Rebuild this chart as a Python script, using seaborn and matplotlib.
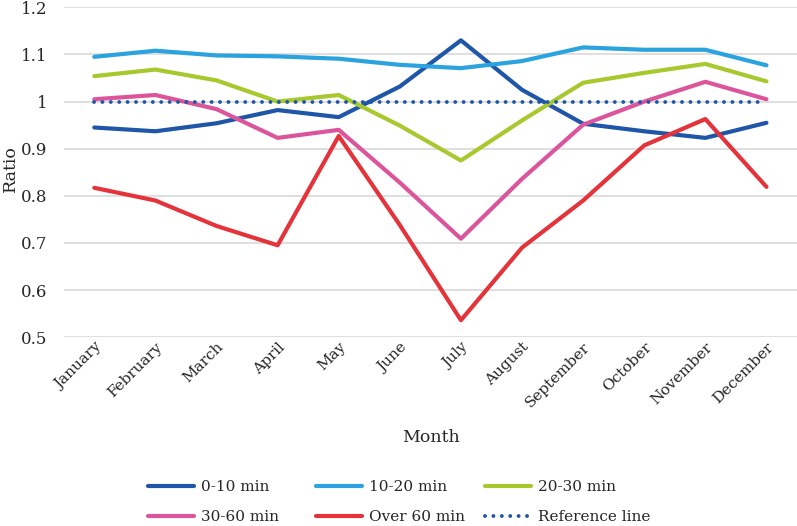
import matplotlib
matplotlib.use('Agg')
import matplotlib.pyplot as plt
import numpy as np
import pandas as pd
import seaborn as sns

# Monthly ratio by travel-time band
months = ['January', 'February', 'March', 'April', 'May', 'June', 'July',
          'August', 'September', 'October', 'November', 'December']
min_0_10 = [0.945, 0.937, 0.954, 0.982, 0.967, 1.032, 1.130, 1.025, 0.953, 0.937, 0.923, 0.955]
min_10_20 = [1.095, 1.108, 1.098, 1.096, 1.091, 1.078, 1.071, 1.086, 1.115, 1.110, 1.110, 1.077]
min_20_30 = [1.054, 1.068, 1.045, 1.000, 1.014, 0.949, 0.875, 0.960, 1.040, 1.061, 1.080, 1.043]
min_30_60 = [1.005, 1.014, 0.984, 0.923, 0.940, 0.828, 0.709, 0.836, 0.951, 1.000, 1.042, 1.005]
over_60 = [0.817, 0.790, 0.736, 0.695, 0.927, 0.738, 0.536, 0.690, 0.790, 0.907, 0.963, 0.819]
reference = [1.0] * 12

series = {
    '0-10 min': (min_0_10, '#1f56a8'),
    '10-20 min': (min_10_20, '#2aa3de'),
    '20-30 min': (min_20_30, '#a8c92e'),
    '30-60 min': (min_30_60, '#dc559c'),
    'Over 60 min': (over_60, '#e5333b'),
}

sns.set_style('white')
plt.rcParams['font.family'] = ['DejaVu Serif']

fig = plt.figure(figsize=(7.97, 5.26), dpi=100)
ax = fig.add_axes([0.080, 0.359, 0.920, 0.627])

for name, (vals, col) in series.items():
    df = pd.DataFrame({'Month': months, 'Ratio': vals})
    sns.lineplot(data=df, x='Month', y='Ratio', ax=ax, color=col, linewidth=3.0,
                 label=name, sort=False)

ref_df = pd.DataFrame({'Month': months, 'Ratio': reference})
sns.lineplot(data=ref_df, x='Month', y='Ratio', ax=ax, color='#1f56a8', linewidth=2.8,
             label='Reference line', sort=False)
ref_line = ax.get_lines()[-1]
ref_line.set_linestyle((0, (0.01, 2.15)))
ref_line.set_dash_capstyle('round')

ax.set_ylim(0.5, 1.2)
ax.set_yticks(np.arange(0.5, 1.21, 0.1))
ax.set_yticklabels(['0.5', '0.6', '0.7', '0.8', '0.9', '1', '1.1', '1.2'], fontsize=12)
ax.set_xlim(-0.5, 11.5)
ax.tick_params(axis='x', labelsize=11, rotation=45, length=0, pad=2)
ax.tick_params(axis='y', length=0, pad=12)
for lbl in ax.get_xticklabels():
    lbl.set_ha('right')
    lbl.set_rotation_mode('anchor')

ax.grid(axis='y', color='#d9d9d9', linewidth=1.2)
ax.set_axisbelow(True)
for spine in ax.spines.values():
    spine.set_visible(False)

ax.set_xlabel('')
ax.set_ylabel('')
fig.text(0.541, 0.169, 'Month', ha='center', va='center', fontsize=12.5)
fig.text(0.013, 0.68, 'Ratio', ha='center', va='center', rotation=90, fontsize=12.5)

# Legend: three equal-width columns, filled row by row
handles, labels = ax.get_legend_handles_labels()
ax.get_legend().remove()
col_x = [148 / 797, 316 / 797, 485 / 797]
for c, x0 in enumerate(col_x):
    idx = [c, c + 3]
    fig.legend([handles[i] for i in idx], [labels[i] for i in idx],
               loc='center left', bbox_to_anchor=(x0, 0.0456),
               frameon=False, fontsize=11, handlelength=3.0, handletextpad=0.45,
               labelspacing=1.05, borderpad=0, borderaxespad=0)

fig.savefig('out.png', dpi=100)
